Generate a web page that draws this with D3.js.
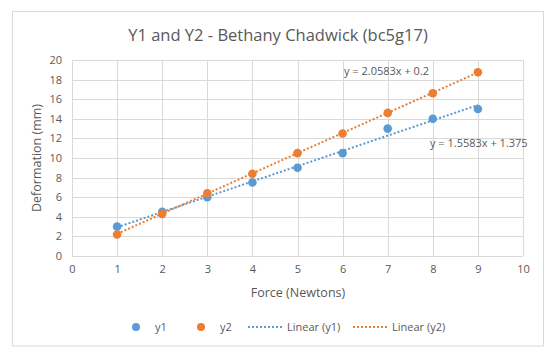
<!DOCTYPE html>
<html><head><meta charset="utf-8">
<script src="https://cdn.jsdelivr.net/npm/d3@7"></script>
<style>body{margin:0;background:#fff}svg{display:block}text{font-family:"Open Sans","Liberation Sans",sans-serif;fill:#595959}</style>
</head><body><svg id="c" width="556" height="355"></svg>
<script>
const xValues = [1,2,3,4,5,6,7,8,9];
const y1Values = [3,4.5,6,7.5,9,10.5,13,14,15];
const y2Values = [2.2,4.3,6.4,8.4,10.5,12.5,14.6,16.6,18.75];
const trendSlopes = [1.5583, 2.0583];
const trendIntercepts = [1.375, 0.2];
const trendLabels = ["y = 1.5583x + 1.375", "y = 2.0583x + 0.2"];
const seriesNames = ["y1","y2"];
const legendLabels = ["y1","y2","Linear (y1)","Linear (y2)"];
const xTicks = [0,1,2,3,4,5,6,7,8,9,10];
const yTicks = [0,2,4,6,8,10,12,14,16,18,20];
const title = "Y1 and Y2 - Bethany Chadwick (bc5g17)";
const xTitle = "Force (Newtons)";
const yTitle = "Deformation (mm)";
const colors = ["#5B9BD5","#ED7D31"];

const svg = d3.select("#c");
svg.append("rect").attr("x",12.5).attr("y",11.5).attr("width",531).attr("height",334.5)
  .attr("fill","#fff").attr("stroke","#D9D9D9");

const m = {l:72, r:523, t:60, b:256};
const x = d3.scaleLinear().domain([0,10]).range([m.l,m.r]);
const y = d3.scaleLinear().domain([0,20]).range([m.b,m.t]);

// grid
svg.append("g").selectAll("line").data(yTicks).join("line")
  .attr("x1",m.l).attr("x2",m.r).attr("y1",d=>Math.round(y(d))+0.5).attr("y2",d=>Math.round(y(d))+0.5)
  .attr("stroke","#D9D9D9");
svg.append("g").selectAll("line").data(xTicks).join("line")
  .attr("y1",m.t).attr("y2",m.b).attr("x1",d=>Math.round(x(d))+0.5).attr("x2",d=>Math.round(x(d))+0.5)
  .attr("stroke","#D9D9D9");

// axes tick labels
const xAxis = d3.axisBottom(x).tickValues(xTicks).tickSize(0).tickPadding(9);
const gx = svg.append("g").attr("transform",`translate(0,${m.b})`).call(xAxis);
gx.select(".domain").remove();
gx.selectAll("text").style("font-size","11px").attr("fill","#595959");
const yAxis = d3.axisLeft(y).tickValues(yTicks).tickSize(0).tickPadding(10);
const gy = svg.append("g").attr("transform",`translate(${m.l},0)`).call(yAxis);
gy.select(".domain").remove();
gy.selectAll("text").style("font-size","11px").attr("fill","#595959");

// title
svg.append("text").attr("x",278).attr("y",41).attr("text-anchor","middle")
  .style("font-size","16.5px").text(title);
svg.append("text").attr("x",298).attr("y",297).attr("text-anchor","middle")
  .style("font-size","12.5px").text(xTitle);
svg.append("text").attr("transform","translate(41,158) rotate(-90)").attr("text-anchor","middle")
  .style("font-size","12.5px").text(yTitle);

// trendlines
[0,1].forEach(i=>{
  const x0 = d3.min(xValues), x1 = d3.max(xValues);
  svg.append("line").attr("x1",x(x0)).attr("x2",x(x1))
    .attr("y1",y(trendSlopes[i]*x0+trendIntercepts[i])).attr("y2",y(trendSlopes[i]*x1+trendIntercepts[i]))
    .attr("stroke",colors[i]).attr("stroke-width",2).attr("stroke-dasharray","2,2");
});
// points
[y1Values,y2Values].forEach((vals,i)=>{
  svg.append("g").selectAll("circle").data(vals).join("circle")
    .attr("cx",(d,j)=>x(xValues[j])).attr("cy",d=>y(d)).attr("r",4.3).attr("fill",colors[i]);
});
// equation labels
svg.append("text").attr("x",430).attr("y",147).style("font-size","11px").text(trendLabels[0]);
svg.append("text").attr("x",344).attr("y",75).style("font-size","11px").text(trendLabels[1]);

// legend
const lg = svg.append("g");
const ly = 327;
lg.append("circle").attr("cx",136).attr("cy",ly).attr("r",4).attr("fill",colors[0]);
lg.append("text").attr("x",155).attr("y",ly+4).style("font-size","11px").text(legendLabels[0]);
lg.append("circle").attr("cx",201).attr("cy",ly).attr("r",4).attr("fill",colors[1]);
lg.append("text").attr("x",220).attr("y",ly+4).style("font-size","11px").text(legendLabels[1]);
lg.append("line").attr("x1",248).attr("x2",282).attr("y1",ly).attr("y2",ly).attr("stroke",colors[0]).attr("stroke-width",2).attr("stroke-dasharray","2,2");
lg.append("text").attr("x",287).attr("y",ly+4).style("font-size","11px").text(legendLabels[2]);
lg.append("line").attr("x1",353).attr("x2",387).attr("y1",ly).attr("y2",ly).attr("stroke",colors[1]).attr("stroke-width",2).attr("stroke-dasharray","2,2");
lg.append("text").attr("x",392).attr("y",ly+4).style("font-size","11px").text(legendLabels[3]);
</script></body></html>
